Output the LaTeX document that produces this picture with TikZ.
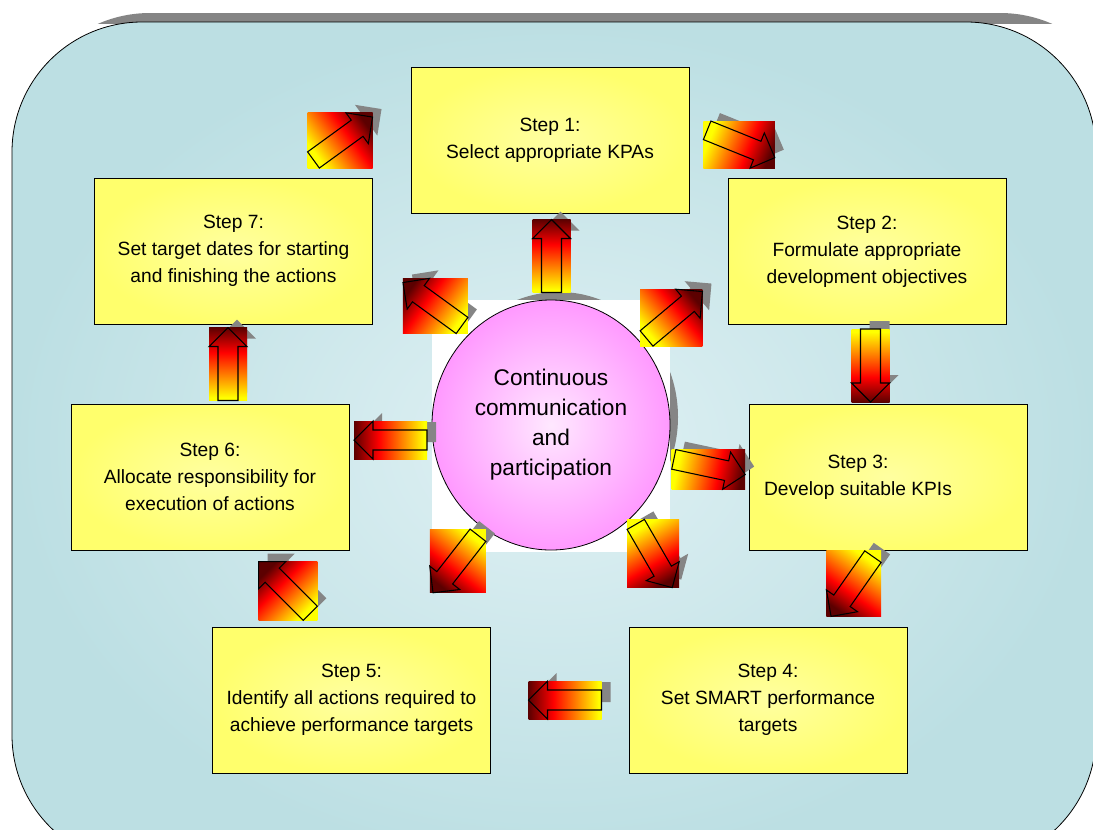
\documentclass[tikz,border=0pt]{standalone}
\usepackage{fontspec}
\setmainfont{Liberation Sans}
\usetikzlibrary{shapes.geometric, positioning}
\definecolor{kpBgOut}{HTML}{BCDFE3}
\definecolor{kpBgIn}{HTML}{E0F1F4}
\definecolor{kpShadow}{HTML}{858585}
\definecolor{kpBoxIn}{HTML}{FFFFA0}
\definecolor{kpBoxOut}{HTML}{FFFF6C}
\definecolor{kpPinkIn}{HTML}{FFE8FF}
\definecolor{kpPinkOut}{HTML}{FF99FF}
\definecolor{kpYellow}{HTML}{FFFF00}
\definecolor{kpRed}{HTML}{FF0000}
\definecolor{kpDark}{HTML}{5C0000}
\pgfdeclareverticalshading{kparrow}{100bp}{color(0bp)=(kpYellow); color(27bp)=(kpYellow); color(58bp)=(kpRed); color(75bp)=(kpDark); color(100bp)=(kpDark)}
\tikzset{
  stepbox/.style={
    draw, line width=0.6pt, inner color=kpBoxIn, outer color=kpBoxOut,
    minimum width=208.5pt, minimum height=109.5pt, align=center,
    font=\fontsize{14.4pt}{20.25pt}\selectfont
  },
  steplabel/.style={align=center, font=\fontsize{14.4pt}{20.25pt}\selectfont},
  hub/.style={
    ellipse, draw, line width=0.6pt, inner color=kpPinkIn, outer color=kpPinkOut,
    minimum width=178.5pt, minimum height=187.5pt, inner sep=0pt, align=center,
    font=\fontsize{17pt}{22.5pt}\selectfont
  },
  frame/.style={draw=black, line width=0.6pt, rounded corners=97.5pt, inner color=kpBgIn, outer color=kpBgOut},
  arrowshadow/.style={fill=kpShadow},
  arrowfill/.style={shading=kparrow},
  arrowline/.style={draw=black, line width=0.8pt, line join=miter}
}
% block arrow, pointing along +x, centred on its length
\newcommand{\kparrowpath}{(-36.5,-10) -- (17.5,-10) -- (17.5,-19) -- (36.5,0) -- (17.5,19) -- (17.5,10) -- (-36.5,10) -- cycle}
% #1 name, #2 centre, #3 direction
\newcommand{\flowarrow}[3]{%
  \fill[arrowshadow, shift={(#2)}, shift={(9,-8)}, rotate=#3] \kparrowpath;
  \begin{scope}[local bounding box=#1]
    \path[shift={(#2)}, rotate=#3] \kparrowpath;
  \end{scope}
  \pgfmathsetmacro\kpangle{#3-90}
  \shade[arrowfill, shading angle=\kpangle] (#1.south west) rectangle (#1.north east);
  \draw[arrowline, shift={(#2)}, rotate=#3] \kparrowpath;
}
\begin{document}
\begin{tikzpicture}[x=0.75pt, y=-0.75pt]
  % frame and its shadow
  \begin{scope}
    \clip (0,0) rectangle (1093,23);
    \fill[kpShadow, rounded corners=97.5pt] (20,13) rectangle (1130,600);
  \end{scope}
  \shade[frame] (12,22) rectangle (1096,865);

  % centre
  \fill[kpShadow] (559,417) ellipse [x radius=89.25pt, y radius=93.75pt];
  \fill[white] (432,300) rectangle (670,552);
  \node[hub] (hub) at (551,425) {Continuous\\communication\\and\\participation};

  % steps
  \node[stepbox] (s1) at (550,140) {Step 1:\\Select appropriate KPAs};
  \node[stepbox] (s2) at (867,251.5) {Step 2:\\Formulate appropriate\\development objectives};
  \node[stepbox, label={[steplabel, xshift=-22.5pt]center:{Step 3:\\Develop suitable KPIs}}] (s3) at (888,477) {};
  \node[stepbox] (s4) at (768,700) {Step 4:\\Set SMART performance\\targets};
  \node[stepbox] (s5) at (351.5,700) {Step 5:\\Identify all actions required to\\achieve performance targets};
  \node[stepbox] (s6) at (210,477) {Step 6:\\Allocate responsibility for\\execution of actions};
  \node[stepbox] (s7) at (233.5,251) {Step 7:\\Set target dates for starting\\and finishing the actions};

  % cycle arrows
  \flowarrow{a71}{343,138.5}{36}
  \flowarrow{a12}{741,144}{-22}
  \flowarrow{a23}{870.5,365.5}{-90}
  \flowarrow{a34}{852,586.5}{-125}
  \flowarrow{a45}{565,700}{180}
  \flowarrow{a56}{284.5,587.5}{135}
  \flowarrow{a67}{228,364}{90}

  % arrows out of the centre
  \flowarrow{h1}{551.5,256}{90}
  \flowarrow{h2}{674.5,315}{40}
  \flowarrow{h3}{709.5,467}{-12}
  \flowarrow{h4}{654,556}{-60}
  \flowarrow{h5}{455.5,564}{-128}
  \flowarrow{h6}{390.5,440}{180}
  \flowarrow{h7}{432.5,304}{144}

  \pgfresetboundingbox
  \useasboundingbox (0,0) rectangle (1093,829);
\end{tikzpicture}
\end{document}
